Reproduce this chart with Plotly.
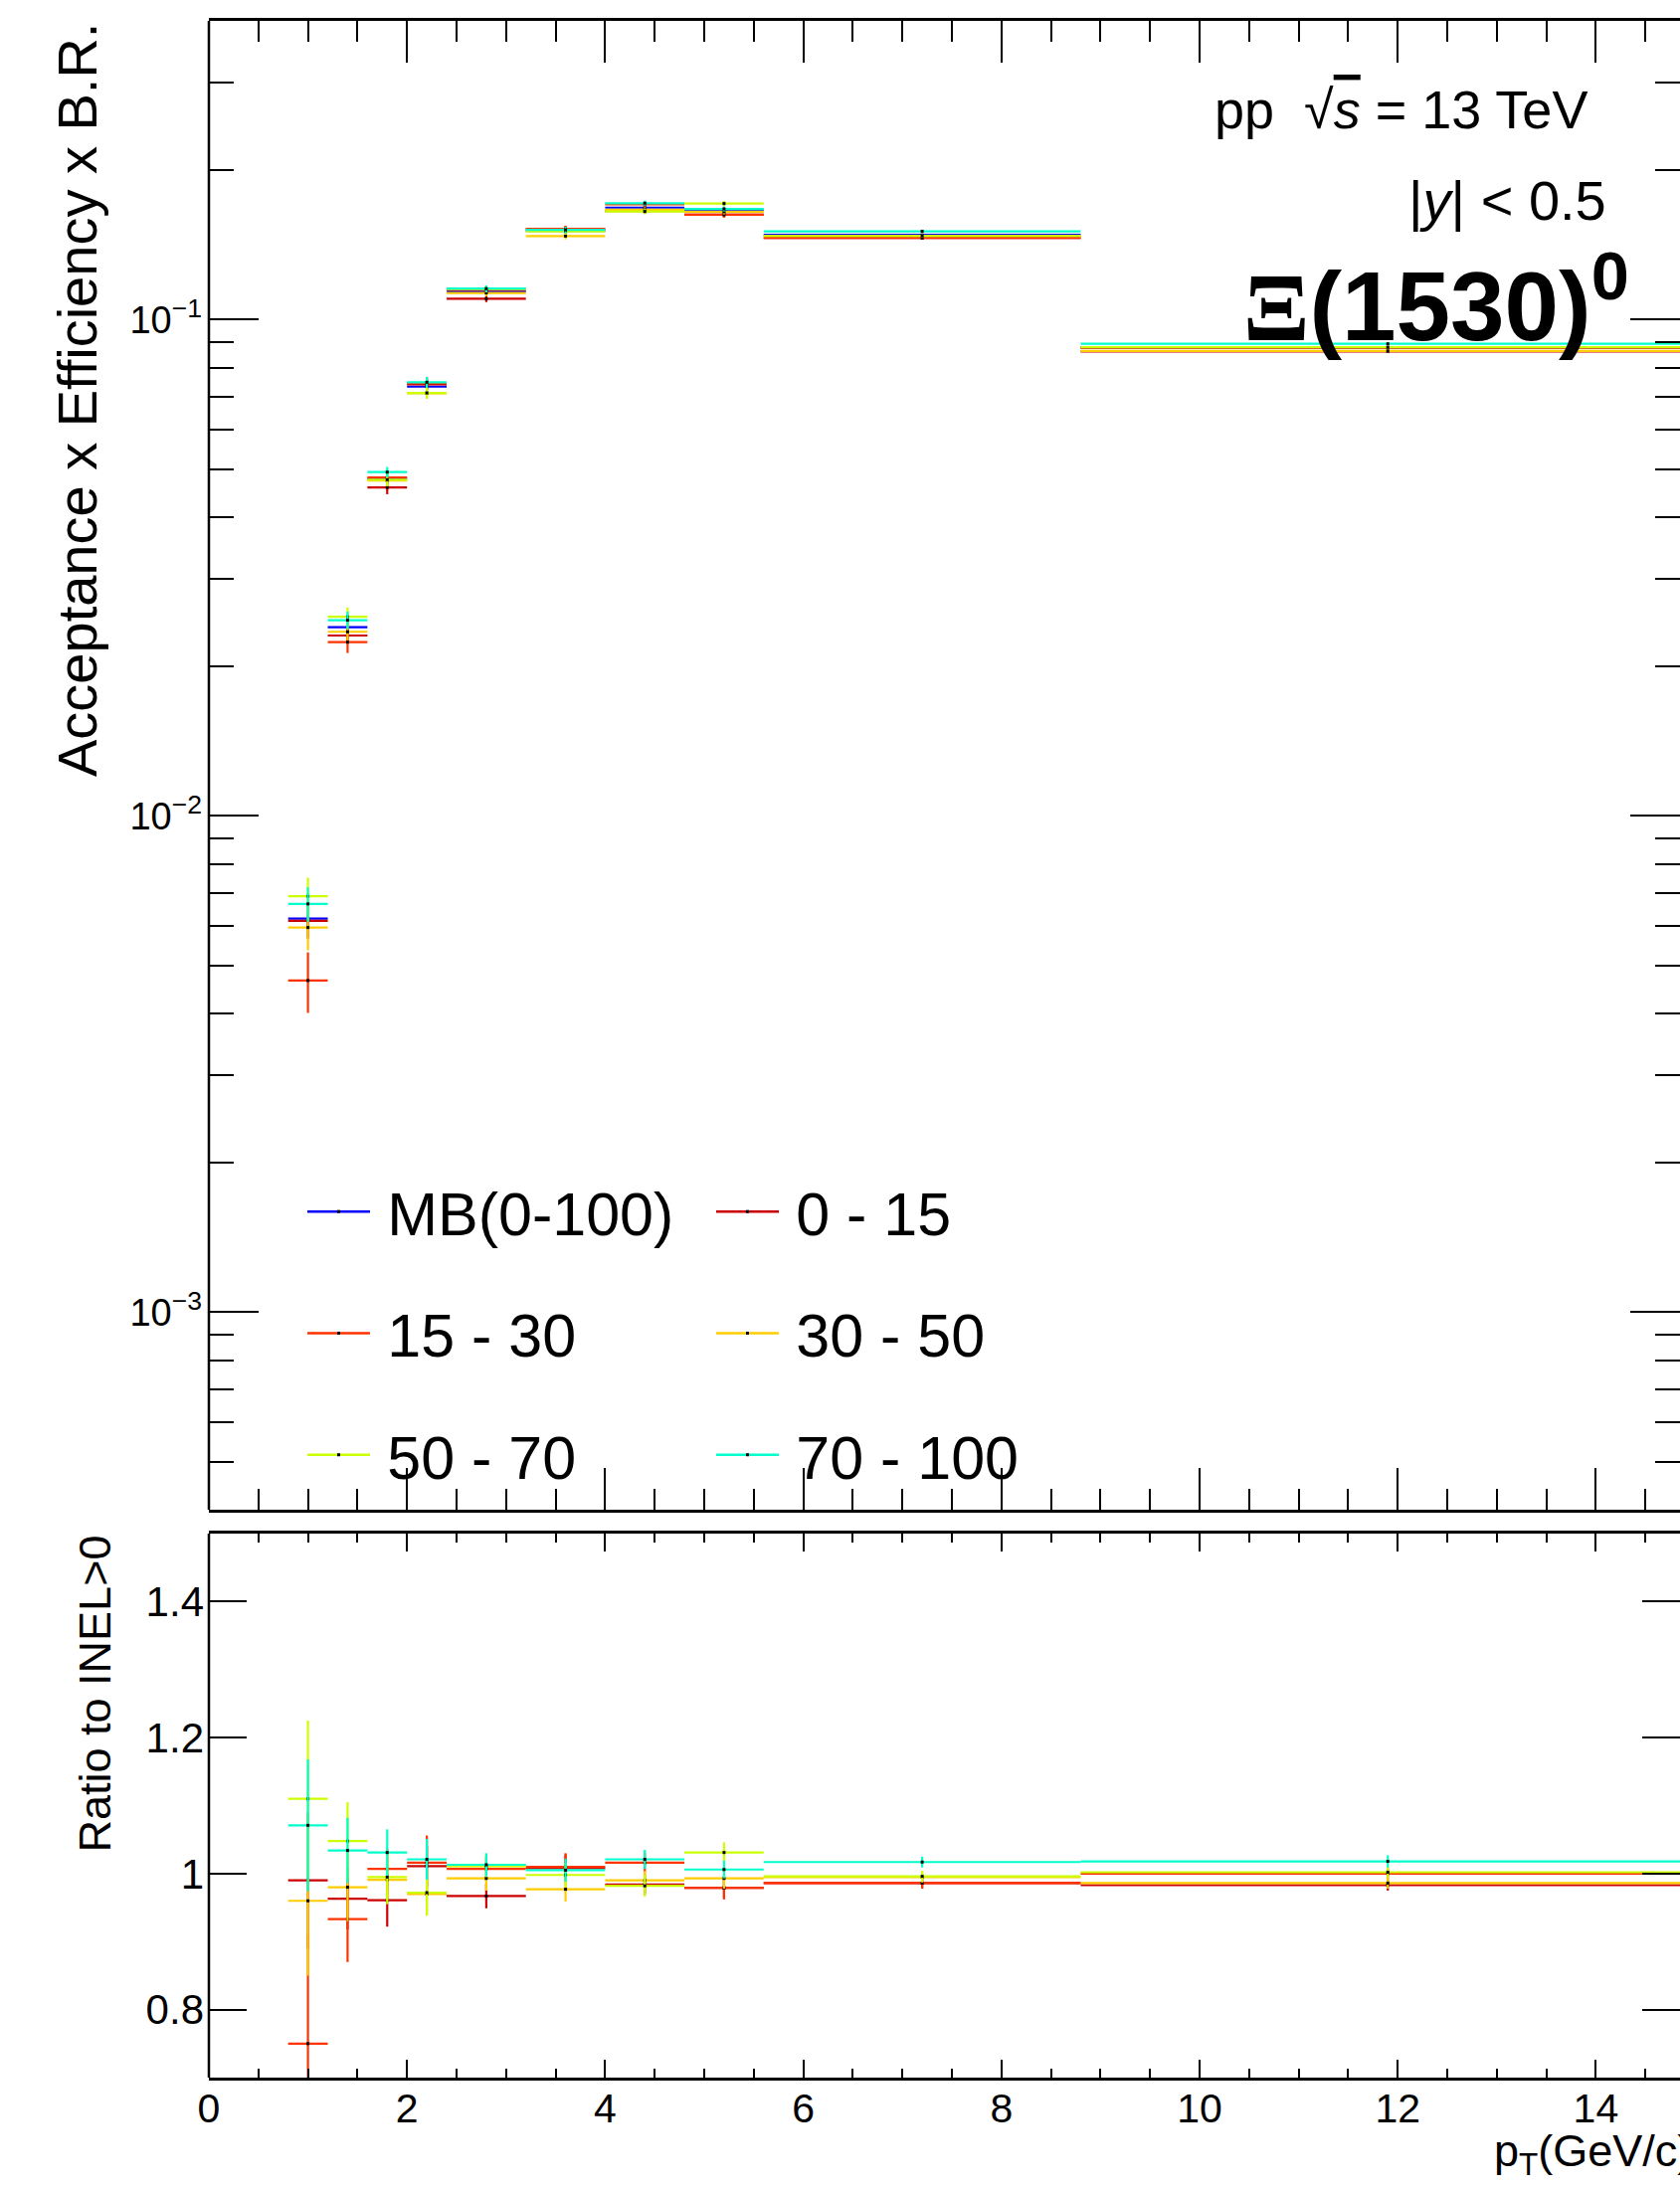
import plotly.graph_objects as go
import numpy as np

# ---------------- data ----------------
pt_low = [0.8, 1.2, 1.6, 2.0, 2.4, 3.2, 4.0, 4.8, 5.6, 8.8]
pt_high = [1.2, 1.6, 2.0, 2.4, 3.2, 4.0, 4.8, 5.6, 8.8, 15.0]

class_names = ["MB(0-100)", "0 - 15", "15 - 30", "30 - 50", "50 - 70", "70 - 100"]
class_colors = ["#0000ff", "#cc0000", "#ff3300", "#ffcc00", "#ccff00", "#00ffcc"]

# Acceptance x Efficiency x B.R.
eff_mb = [0.00621, 0.0240, 0.0478, 0.0733, 0.1140, 0.1509, 0.1682, 0.1662, 0.1482, 0.0878]
eff_0_15 = [0.00615, 0.0231, 0.0459, 0.0741, 0.1102, 0.1522, 0.1655, 0.1627, 0.1461, 0.0863]
eff_15_30 = [0.00466, 0.0224, 0.0481, 0.0745, 0.1148, 0.1524, 0.1709, 0.1627, 0.1461, 0.0878]
eff_30_50 = [0.00596, 0.0235, 0.0474, 0.0711, 0.1132, 0.1474, 0.1665, 0.1650, 0.1475, 0.0865]
eff_50_70 = [0.00689, 0.0252, 0.0476, 0.0712, 0.1153, 0.1506, 0.1652, 0.1714, 0.1476, 0.0880]
eff_70_100 = [0.00665, 0.0248, 0.0493, 0.0748, 0.1155, 0.1517, 0.1717, 0.1672, 0.1507, 0.0894]

err_mb = [0.0002, 0.0005, 0.0006, 0.0007, 0.0009, 0.0011, 0.0012, 0.0012, 0.0006, 0.0004]
err_0_15 = [0.00049, 0.0008, 0.0014, 0.0019, 0.0017, 0.0023, 0.0020, 0.0020, 0.0010, 0.0006]
err_15_30 = [0.00065, 0.0011, 0.0012, 0.0022, 0.0017, 0.0023, 0.0020, 0.0020, 0.0010, 0.0006]
err_30_50 = [0.00060, 0.0009, 0.0012, 0.0018, 0.0017, 0.0022, 0.0020, 0.0020, 0.0010, 0.0006]
err_50_70 = [0.00062, 0.0011, 0.0014, 0.0018, 0.0017, 0.0022, 0.0020, 0.0020, 0.0010, 0.0006]
err_70_100 = [0.00053, 0.0010, 0.0012, 0.0019, 0.0017, 0.0022, 0.0020, 0.0020, 0.0010, 0.0006]

# Ratio to INEL>0
ratio_0_15 = [0.990, 0.963, 0.961, 1.011, 0.967, 1.008, 0.984, 0.979, 0.986, 0.983]
ratio_15_30 = [0.750, 0.933, 1.007, 1.016, 1.007, 1.010, 1.016, 0.979, 0.986, 1.000]
ratio_30_50 = [0.960, 0.980, 0.991, 0.970, 0.993, 0.977, 0.990, 0.993, 0.995, 0.986]
ratio_50_70 = [1.110, 1.048, 0.995, 0.972, 1.011, 0.998, 0.982, 1.031, 0.996, 1.002]
ratio_70_100 = [1.071, 1.034, 1.031, 1.021, 1.013, 1.005, 1.021, 1.006, 1.017, 1.018]

rerr_0_15 = [0.100, 0.045, 0.039, 0.030, 0.018, 0.020, 0.015, 0.015, 0.008, 0.008]
rerr_15_30 = [0.160, 0.063, 0.030, 0.040, 0.018, 0.020, 0.015, 0.017, 0.008, 0.008]
rerr_30_50 = [0.110, 0.050, 0.030, 0.030, 0.018, 0.018, 0.014, 0.015, 0.008, 0.008]
rerr_50_70 = [0.115, 0.057, 0.040, 0.034, 0.016, 0.018, 0.016, 0.015, 0.008, 0.008]
rerr_70_100 = [0.097, 0.048, 0.034, 0.030, 0.017, 0.017, 0.014, 0.013, 0.008, 0.009]

top_ticks = [1e-3, 1e-2, 1e-1]
top_ticktext = ["10<sup>\u22123</sup>", "10<sup>\u22122</sup>", "10<sup>\u22121</sup>"]
ratio_ticks = [0.8, 1.0, 1.2, 1.4]
ratio_ticktext = ["0.8", "1", "1.2", "1.4"]

# ---------------- figure ----------------
W, H = 1689, 2201
L, R, T, B = 210, 0, 21, 112
plot_h = H - T - B
plot_w = W - L - R


def px(x):
    return (x - L) / plot_w


def py(y):
    return (H - B - y) / plot_h


centers = [(a + b) / 2 for a, b in zip(pt_low, pt_high)]
halfw = [(b - a) / 2 for a, b in zip(pt_low, pt_high)]

eff_all = [eff_mb, eff_0_15, eff_15_30, eff_30_50, eff_50_70, eff_70_100]
err_all = [err_mb, err_0_15, err_15_30, err_30_50, err_50_70, err_70_100]
ratio_all = [None, ratio_0_15, ratio_15_30, ratio_30_50, ratio_50_70, ratio_70_100]
rerr_all = [None, rerr_0_15, rerr_15_30, rerr_30_50, rerr_50_70, rerr_70_100]

fig = go.Figure()
FONT = "Liberation Sans, Arial, Helvetica, sans-serif"

for i, name in enumerate(class_names):
    col = class_colors[i]
    fig.add_trace(go.Scatter(
        x=centers, y=eff_all[i], mode="markers", name=name, showlegend=False,
        marker=dict(color="black", size=3, symbol="square"),
        error_x=dict(type="data", array=halfw, color=col, thickness=2.2, width=0),
        error_y=dict(type="data", array=err_all[i], color=col, thickness=2.2, width=0),
        xaxis="x", yaxis="y"))

for i, name in enumerate(class_names):
    if ratio_all[i] is None:
        continue
    col = class_colors[i]
    fig.add_trace(go.Scatter(
        x=centers, y=ratio_all[i], mode="markers", name=name, showlegend=False,
        marker=dict(color="black", size=3, symbol="square"),
        error_x=dict(type="data", array=halfw, color=col, thickness=2.2, width=0),
        error_y=dict(type="data", array=rerr_all[i], color=col, thickness=2.2, width=0),
        xaxis="x2", yaxis="y2"))

# legend entries (two columns)
for i, name in enumerate(class_names):
    fig.add_trace(go.Scatter(
        x=[None], y=[None], mode="lines+markers", name="\u2009" + name,
        line=dict(color=class_colors[i], width=2.5),
        marker=dict(color="black", size=3, symbol="square"),
        legend="legend" if i % 2 == 0 else "legend2",
        legendgroup=f"g{i}", xaxis="x", yaxis="y"))

xr = [0, (W - L) / 99.6]
top_dom = [py(1518), 1.0]
rat_dom = [0.0, py(1542)]

xaxis_common = dict(showgrid=False, zeroline=False, showline=True, linecolor="black",
                    linewidth=2.5, mirror="ticks", tickcolor="black", tickwidth=2)
yaxis_common = dict(showgrid=False, zeroline=False, showline=False,
                    mirror="ticks", tickcolor="black", tickwidth=2)

fig.update_layout(
    width=W, height=H,
    margin=dict(l=L, r=R, t=T, b=B),
    paper_bgcolor="white", plot_bgcolor="white",
    font=dict(family=FONT, color="black"),
    xaxis=dict(**xaxis_common, domain=[0, 1], anchor="y", range=xr, ticks="inside",
               ticklen=42, tick0=0, dtick=2, showticklabels=False,
               minor=dict(ticks="inside", ticklen=21, dtick=0.5, tick0=0, tickwidth=2, tickcolor="black")),
    yaxis=dict(**yaxis_common, domain=top_dom, anchor="x", type="log",
               range=[np.log10(4e-4), np.log10(0.4)], ticks="inside", ticklen=50,
               tickmode="array", tickvals=top_ticks, ticktext=top_ticktext,
               tickfont=dict(size=38), ticklabelstandoff=6,
               minor=dict(ticks="inside", ticklen=25, tickwidth=2, tickcolor="black",
                          tickmode="array",
                          tickvals=[m * 10.0 ** e for e in (-4, -3, -2, -1) for m in range(2, 10)])),
    xaxis2=dict(**xaxis_common, domain=[0, 1], anchor="y2", range=xr, matches="x",
                ticks="inside", ticklen=18, tick0=0, dtick=2, showticklabels=True,
                tickfont=dict(size=41), ticklabelstandoff=-7,
                minor=dict(ticks="inside", ticklen=9, dtick=0.5, tick0=0, tickwidth=2, tickcolor="black")),
    yaxis2=dict(**yaxis_common, domain=rat_dom, anchor="x2", range=[0.7, 1.5],
                ticks="inside", ticklen=38, tickmode="array", tickvals=ratio_ticks,
                ticktext=ratio_ticktext, tickfont=dict(size=42), ticklabelstandoff=4),
    legend=dict(x=px(304), y=py(1172), xanchor="left", yanchor="top",
                font=dict(size=61, family=FONT), bgcolor="rgba(0,0,0,0)",
                itemwidth=63, tracegroupgap=40, borderwidth=0),
    legend2=dict(x=px(715), y=py(1172), xanchor="left", yanchor="top",
                 font=dict(size=61, family=FONT), bgcolor="rgba(0,0,0,0)",
                 itemwidth=63, tracegroupgap=40, borderwidth=0),
    shapes=[
        dict(type="line", xref="paper", yref="paper", x0=0, x1=0, y0=top_dom[0], y1=top_dom[1],
             line=dict(color="black", width=2.5)),
        dict(type="line", xref="paper", yref="paper", x0=0, x1=0, y0=rat_dom[0], y1=rat_dom[1],
             line=dict(color="black", width=2.5)),
    ],
)

ann = [
    dict(text="Acceptance x Efficiency x B.R.", x=px(77), y=py(21), xanchor="center",
         yanchor="top", textangle=-90, font=dict(size=56)),
    dict(text="Ratio to INEL&gt;0", x=px(95), y=py(1542), xanchor="center",
         yanchor="top", textangle=-90, font=dict(size=45)),
    dict(text="p<sub>T</sub>(GeV/c)", x=px(1500), y=py(2165), xanchor="left",
         yanchor="middle", font=dict(size=45)),
    dict(text="pp  \u221a<span style='text-decoration:overline'><i>s</i></span> = 13 TeV",
         x=px(1598), y=py(110), xanchor="right", yanchor="middle", font=dict(size=54)),
    dict(text="|<i>y</i>| &lt; 0.5", x=px(1617), y=py(201), xanchor="right",
         yanchor="middle", font=dict(size=56)),
    dict(text="<b><span style='font-family:Liberation Serif'>\u039e</span>(1530)<sup>0</sup></b>",
         x=px(1640), y=py(301), xanchor="right", yanchor="middle", font=dict(size=98)),
]
for a in ann:
    a.update(xref="paper", yref="paper", showarrow=False)
fig.update_layout(annotations=ann)

fig.write_html("out.html")
